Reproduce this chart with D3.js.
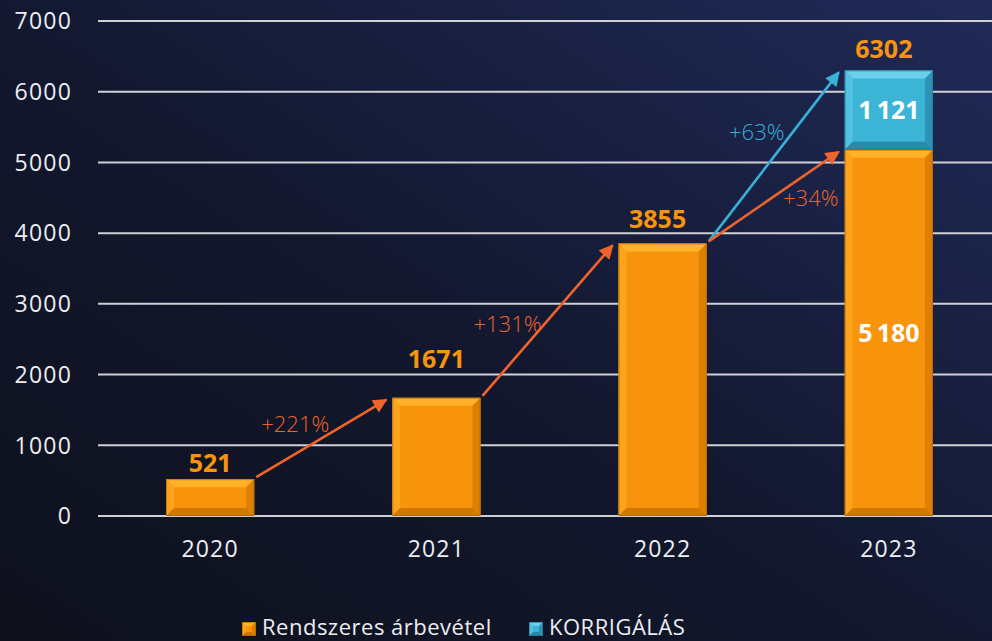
<!DOCTYPE html>
<html>
<head>
<meta charset="utf-8">
<script src="https://cdn.jsdelivr.net/npm/d3@7"></script>
<style>
  html, body { margin: 0; padding: 0; background: #10131f; }
  svg { display: block; font-family: 'Open Sans', sans-serif; }
</style>
</head>
<body>
<svg id="chart" width="992" height="641"></svg>
<script>
// data
const years = ['2020', '2021', '2022', '2023']
const regular = [521, 1671, 3855, 5180]
const correction = [0, 0, 0, 1121]
const totals = [521, 1671, 3855, 6302]
const yTicks = [0, 1000, 2000, 3000, 4000, 5000, 6000, 7000]
const seriesNames = ['Rendszeres árbevétel', 'KORRIGÁLÁS']

// growth arrows: from year index, to year index, which series top, label
const growth = [
  { from: 0, to: 1, target: 'regular', label: '+221%' },
  { from: 1, to: 2, target: 'regular', label: '+131%' },
  { from: 2, to: 3, target: 'total', label: '+63%' },
  { from: 2, to: 3, target: 'regular', label: '+34%' }
]

// layout tweaks (label nudges, in px)
const totalLabelDy = [-7, -30, -15, -12]
const growthLabelOffset = [[-26, -6], [-40, 11], [-17, -17], [37, 9]]

const ORANGE = { main: '#f7940b', top: '#ffb22a', left: '#fba41c', right: '#dc7f03', bottom: '#d07800', edge: '#a85f00' }
const BLUE = { main: '#3bb4d6', top: '#6cd0ec', left: '#52c2e2', right: '#2c93b6', bottom: '#2a8aab', edge: '#1f6f8c' }
const ARROW_ORANGE = '#f0642b'
const ARROW_BLUE = '#37b1d6'

const svg = d3.select('#chart')
const W = 992
const H = 641

// background
const defs = svg.append('defs')
const bg = defs.append('linearGradient').attr('id', 'bg')
  .attr('x1', 0).attr('y1', 1).attr('x2', 1).attr('y2', 0)
bg.append('stop').attr('offset', '0%').attr('stop-color', '#0e111c')
bg.append('stop').attr('offset', '45%').attr('stop-color', '#12172d')
bg.append('stop').attr('offset', '100%').attr('stop-color', '#202a58')
svg.append('rect').attr('width', W).attr('height', H).attr('fill', 'url(#bg)')

const x = d3.scaleBand().domain(years).range([97, 1002]).paddingInner(0.61).paddingOuter(0.305)
const y = d3.scaleLinear().domain([0, 7000]).range([516, 21])

// gridlines + y tick labels
svg.append('g').selectAll('line').data(yTicks).enter().append('line')
  .attr('x1', 98).attr('x2', W)
  .attr('y1', d => y(d)).attr('y2', d => y(d))
  .attr('stroke', '#cfd0d4').attr('stroke-width', 2)

svg.append('g').selectAll('text').data(yTicks).enter().append('text')
  .attr('x', 72).attr('y', d => y(d)).attr('dy', '0.36em')
  .attr('text-anchor', 'end')
  .attr('fill', '#eceef2').attr('font-size', 23).attr('letter-spacing', 1.2)
  .text(d => d)

// x labels
svg.append('g').selectAll('text').data(years).enter().append('text')
  .attr('x', d => x(d) + x.bandwidth() / 2).attr('y', 557)
  .attr('text-anchor', 'middle')
  .attr('fill', '#eceef2').attr('font-size', 23).attr('letter-spacing', 1.2)
  .text(d => d)

// beveled rectangle
function bevelRect (g, x0, y0, w, h, c, b) {
  b = Math.min(b, h / 2, w / 2)
  const x1 = x0 + w
  const y1 = y0 + h
  g.append('rect').attr('x', x0).attr('y', y0).attr('width', w).attr('height', h).attr('fill', c.main)
  const faces = [
    [[x0, y0], [x1, y0], [x1 - b, y0 + b], [x0 + b, y0 + b], c.top],
    [[x0, y0], [x0 + b, y0 + b], [x0 + b, y1 - b], [x0, y1], c.left],
    [[x1, y0], [x1, y1], [x1 - b, y1 - b], [x1 - b, y0 + b], c.right],
    [[x0, y1], [x0 + b, y1 - b], [x1 - b, y1 - b], [x1, y1], c.bottom]
  ]
  faces.forEach(f => {
    g.append('polygon').attr('points', f.slice(0, 4).map(p => p.join(',')).join(' ')).attr('fill', f[4])
  })
  g.append('rect').attr('x', x0 + 0.5).attr('y', y0 + 0.5).attr('width', w - 1).attr('height', h - 1)
    .attr('fill', 'none').attr('stroke', c.edge).attr('stroke-width', 1).attr('stroke-opacity', 0.6)
}

const bars = svg.append('g')
years.forEach((yr, i) => {
  const bx = x(yr)
  const bw = x.bandwidth()
  bevelRect(bars, bx, y(regular[i]), bw, y(0) - y(regular[i]), ORANGE, 8)
  if (correction[i] > 0) {
    const top = y(regular[i] + correction[i])
    bevelRect(bars, bx, top, bw, y(regular[i]) - top, BLUE, 8)
  }
})

// labels in segments (stacked bar only)
const fmt = d3.formatLocale({ decimal: ',', thousands: '\u2009', grouping: [3], currency: ['', ''] }).format(',d')
years.forEach((yr, i) => {
  if (correction[i] === 0) return
  const cx = x(yr) + x.bandwidth() / 2
  svg.append('text').attr('x', cx).attr('y', (y(0) + y(regular[i])) / 2).attr('dy', '0.36em')
    .attr('text-anchor', 'middle').attr('fill', '#ffffff').attr('font-size', 25).attr('font-weight', 700)
    .text(fmt(regular[i]))
  svg.append('text').attr('x', cx).attr('y', (y(regular[i]) + y(totals[i])) / 2).attr('dy', '0.36em')
    .attr('text-anchor', 'middle').attr('fill', '#ffffff').attr('font-size', 25).attr('font-weight', 700)
    .text(fmt(correction[i]))
})

// totals above bars
svg.append('g').selectAll('text').data(years).enter().append('text')
  .attr('x', (d, i) => x(d) + x.bandwidth() / 2 - (i >= 2 ? 5 : 0))
  .attr('y', (d, i) => y(totals[i]) + totalLabelDy[i])
  .attr('text-anchor', 'middle')
  .attr('fill', '#f7940b').attr('font-size', 25).attr('font-weight', 700)
  .text((d, i) => totals[i])

// arrows
function marker (id, color) {
  defs.append('marker').attr('id', id)
    .attr('viewBox', '0 0 10 10').attr('refX', 9).attr('refY', 5)
    .attr('markerWidth', 6).attr('markerHeight', 5.5).attr('orient', 'auto')
    .attr('markerUnits', 'strokeWidth')
    .append('path').attr('d', 'M0,0 L10,5 L0,10 Z').attr('fill', color)
}
marker('arrO', ARROW_ORANGE)
marker('arrB', ARROW_BLUE)

growth.forEach((g, k) => {
  const color = g.target === 'total' ? ARROW_BLUE : ARROW_ORANGE
  const fromVal = totals[g.from]
  const toVal = g.target === 'total' ? totals[g.to] : regular[g.to]
  const sx = x(years[g.from]) + x.bandwidth() + 2
  const sy = y(fromVal) - 2
  const ex = x(years[g.to]) - 6
  const ey = y(toVal) + 2
  svg.append('line').attr('x1', sx).attr('y1', sy).attr('x2', ex).attr('y2', ey)
    .attr('stroke', color).attr('stroke-width', 2.6)
    .attr('marker-end', g.target === 'total' ? 'url(#arrB)' : 'url(#arrO)')
  svg.append('text')
    .attr('x', (sx + ex) / 2 + growthLabelOffset[k][0])
    .attr('y', (sy + ey) / 2 + growthLabelOffset[k][1])
    .attr('text-anchor', 'middle').attr('fill', color).attr('font-size', 22).attr('font-weight', 300)
    .text(g.label)
})

// legend
const legend = svg.append('g')
const legendX = [242, 529]
seriesNames.forEach((name, i) => {
  const c = i === 0 ? ORANGE : BLUE
  bevelRect(legend, legendX[i], 622, 14, 14, c, 4)
  legend.append('text').attr('x', legendX[i] + 20).attr('y', 635)
    .attr('fill', '#eceef2').attr('font-size', 22).attr('letter-spacing', 0.5)
    .text(name)
})
</script>
</body>
</html>
